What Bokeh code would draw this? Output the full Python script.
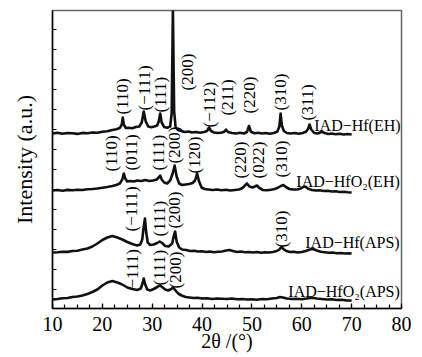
import math
from bokeh.plotting import figure
from bokeh.models import ColumnDataSource, FixedTicker, SingleIntervalTicker
from bokeh.core.properties import value
from bokeh.embed import file_html
from bokeh.resources import INLINE

# ---------------- data ----------------
# 2theta (deg) and intensity above each pattern's own baseline (a.u.)
s1_x = [10, 11, 12, 13, 14, 15, 16, 17, 18, 19, 20, 21, 22, 22.8, 23.5, 23.9, 24.1, 24.3, 24.7, 25.3,
        26, 26.7, 27.4, 27.9, 28.3, 28.7, 29.2, 29.8, 30.4, 31.0, 31.3, 31.6, 31.9, 32.4, 33.0, 33.6,
        33.9, 34.15, 34.4, 34.7, 35.2, 35.8, 36.5, 37.3, 38.0, 38.8, 39.6, 40.4, 41.0, 41.4, 41.8, 42.4,
        43.2, 44.0, 44.5, 44.8, 45.2, 46.0, 46.8, 47.6, 48.4, 49.0, 49.4, 49.8, 50.5, 51.3, 52.0, 52.8,
        53.6, 54.4, 55.1, 55.5, 55.75, 56.0, 56.4, 57.0, 57.8, 58.6, 59.4, 60.2, 60.9, 61.3, 61.55, 61.9,
        62.5, 63.2, 64.0, 64.6, 65.3, 66.0, 66.8, 67.6, 68.4, 69.2, 70.0]
s1_y = [0, 0.8, -0.3, 0.5, 0.2, -0.4, 0.6, 0.3, 1.0, 0.8, 1.8, 2.3, 3.5, 4.2, 5.5, 9, 16, 9, 5.5, 5.8,
        5.2, 6.5, 7, 11, 22, 12, 7, 6.3, 7, 8, 12, 20, 11, 6.5, 5.8, 7,
        20, 124, 22, 6, 3.5, 2.5, 1.5, 2, 1, 1.5, 0.8, 1.5, 2.5, 6, 2.5, 1,
        0.5, 1, 2, 4, 1.5, 0.5, 0, 0.8, 0, 1.5, 7.5, 1.8, 0.2, 0.8, 0, 0.5,
        -0.3, 0.5, 2, 7, 20, 8, 2.5, 0.5, 0, 0.5, -0.3, 0.5, 2, 5, 9, 4,
        0.5, 0, 1.8, 0.5, -0.5, 0, -0.8, -0.3, -1, -0.5, -1]

s2_x = [10, 11, 12, 13, 14, 15, 16, 17, 18, 19, 20, 21, 22, 22.8, 23.5, 24.0, 24.3, 24.6, 25.0, 25.6,
        26.3, 27.0, 27.8, 28.6, 29.4, 30.2, 30.9, 31.3, 31.6, 31.9, 32.4, 33.0, 33.6, 34.1, 34.5, 34.9,
        35.4, 36.0, 36.7, 37.4, 38.1, 38.6, 39.0, 39.4, 39.9, 40.5, 41.3, 42.1, 43.0, 43.9, 44.8, 45.7,
        46.6, 47.4, 48.1, 48.6, 49.0, 49.5, 50.1, 50.6, 51.0, 51.5, 52.2, 53.0, 53.8, 54.6, 55.3, 55.8,
        56.3, 56.8, 57.5, 58.3, 59.1, 59.8, 60.3, 60.7, 61.2, 62.0, 62.8, 63.6, 64.4, 65.2, 66.0, 66.8,
        67.6, 68.4, 69.2, 70.0]
s2_y = [0, 0.5, -0.2, 0.6, 0.3, 0.8, 0.5, 1.2, 1.5, 2.0, 2.8, 3.5, 4.5, 5.5, 7, 11, 17, 12, 9, 9.5,
        9, 10, 9.5, 10.5, 9.5, 10, 11, 13, 15, 11, 8, 7, 10, 17, 25, 14,
        7, 5.5, 6, 6.5, 7.5, 10, 17, 9, 3, 1.5, 1, 0.5, 1, 0.3, 0.8, 0,
        0.5, 1, 2.5, 5, 7, 4, 3, 4, 5, 2.5, 0.5, 0.2, 0.8, 1.5, 3, 4.5,
        5.5, 3.5, 1.5, 1, 1, 2, 3.5, 4, 2, 0.5, 0, 0.3, -0.5, -0.3, -1, -0.8,
        -1.5, -1.2, -1.8, -2]

s3_x = [10, 11, 12, 13, 14, 15, 16, 17, 18, 19, 20, 21, 22, 23, 24, 25, 26, 27, 27.6, 28.0,
        28.3, 28.55, 28.8, 29.1, 29.6, 30.3, 31.0, 31.5, 32.0, 32.6, 33.3, 34.0, 34.35, 34.6, 34.9, 35.4,
        36.0, 36.8, 37.6, 38.4, 39.2, 40.0, 40.8, 41.6, 42.4, 43.2, 44.0, 44.8, 45.5, 46.2, 47.0, 47.8,
        48.6, 49.4, 50.2, 51.0, 51.8, 52.6, 53.4, 54.2, 55.0, 55.5, 55.9, 56.3, 56.9, 57.6, 58.4, 59.2,
        60.0, 60.8, 61.6, 62.3, 63.0, 63.8, 64.6, 65.4, 66.2, 67.0, 67.8, 68.6, 69.4, 70.0]
s3_y = [0, 0.3, 0.8, 0.6, 1.5, 1.8, 3, 4, 6, 9, 12.5, 15, 16.5, 15, 13, 10.5, 8.5, 7, 8, 13,
        26, 34, 20, 10, 7.5, 8, 9.5, 11, 9.5, 6.5, 6, 9, 17, 21, 11, 5,
        3, 2.5, 1.5, 1.8, 1, 1.2, 0.5, 1, 0.3, 0.8, 1, 2, 2.5, 1.5, 0.5, 1,
        0.3, 0.5, 0, 0.5, -0.3, 0.3, 0, 0.5, 1.5, 3, 5.5, 3.5, 1.5, 0.5, 0.8, 0,
        0.5, 1.5, 3, 3.5, 2, 0.8, 0.3, -0.3, 0, -0.8, -0.5, -1, -0.8, -1]

s4_x = [10, 11, 12, 13, 14, 15, 16, 17, 18, 19, 20, 21, 22, 23, 24, 25, 26, 27, 27.7, 28.05,
        28.3, 28.6, 29.0, 29.6, 30.3, 31.0, 31.5, 32.0, 32.6, 33.2, 33.8, 34.2, 34.6, 35.2, 35.9, 36.7,
        37.5, 38.3, 39.1, 40.0, 41, 42, 43, 44, 45, 46, 47, 48, 49, 50, 51, 52,
        53, 54, 55, 55.6, 56.2, 57, 58, 59, 60, 61, 62, 63, 64, 65, 66, 67, 68, 69, 70]
s4_y = [0, 0.5, 1.2, 1.5, 2.5, 3, 4, 5.5, 7.5, 10, 14, 17, 18.5, 17, 15, 12, 10.5, 9.5, 11, 16,
        21, 15, 10, 9, 10.5, 12.5, 14, 12.5, 10, 9, 10.5, 12, 9.5, 6, 4, 2.5,
        2, 1.5, 1.8, 1, 1.2, 0.5, 1, 0.8, 0.5, 1, 0.3, 0.5, 0, 0.3, -0.3, 0.5,
        0.3, 1, 1.5, 2.5, 2, 1, 0.5, 0.8, 0.3, 1, 1.8, 1, 0.5, 0, 0.3, -0.5, -0.3, -1, -1]

series_names = ["IAD\u2212Hf(EH)", "IAD\u2212HfO\u2082(EH)", "IAD\u2212Hf(APS)", "IAD\u2212HfO\u2082(APS)"]
series_offsets = [175, 118, 56, 9]

# peak (hkl) labels: text, 2theta, height where label starts
hkl_text = ["(110)", "(\u2212111)", "(111)", "(200)", "(\u2212112)", "(211)", "(220)", "(310)", "(311)",
            "(110)", "(011)", "(111)", "(200)", "(120)", "(220)", "(022)", "(310)",
            "(\u2212111)", "(111)", "(200)", "(310)",
            "\u2212111)", "(111)", "(200)"]
hkl_x = [24.1, 28.4, 31.7, 37.0, 41.4, 45.0, 49.6, 55.7, 61.1,
         21.9, 25.9, 31.3, 34.5, 38.4, 47.8, 51.4, 55.9,
         25.9, 31.5, 34.4, 55.9,
         26.1, 31.5, 34.7]
hkl_y = [194, 198, 196, 218, 181, 193, 195, 198, 188,
         137, 138, 138, 145, 135, 130, 130, 131,
         77, 72, 80, 61,
         20, 23, 20]

name_x = [62.5, 58.9, 60.7, 57.3]
name_y = [183, 127, 66, 17]

y_ticks = [19, 39, 59, 79, 99, 119, 139, 159, 179, 199, 219, 239, 259, 279]

FONT = "'Liberation Serif', 'Times New Roman', serif"

# ---------------- figure ----------------
p = figure(width=422, height=357, x_range=(10, 80), y_range=(0, 298),
           output_backend="svg", toolbar_location=None,
           min_border_left=52, min_border_right=21, min_border_top=10, min_border_bottom=49)
p.background_fill_color = "white"
p.border_fill_color = "white"
p.outline_line_color = "#666666"
p.outline_line_width = 1.5
p.xgrid.visible = False
p.ygrid.visible = False

# x axis
p.xaxis.ticker = SingleIntervalTicker(interval=10, num_minor_ticks=4)
p.xaxis.major_tick_in = 5
p.xaxis.major_tick_out = 0
p.xaxis.minor_tick_in = 4
p.xaxis.minor_tick_out = 0
p.xaxis.axis_line_width = 1.5
p.xaxis.major_tick_line_width = 1.2
p.xaxis.minor_tick_line_width = 1.2
p.xaxis.major_label_text_font = FONT
p.xaxis.major_label_text_font_size = "20px"
p.xaxis.major_label_text_color = "black"
p.xaxis.major_label_standoff = 8
p.xaxis.axis_label = "2\u03b8 /(\u00b0)"
p.xaxis.axis_label_text_font = FONT
p.xaxis.axis_label_text_font_size = "20px"
p.xaxis.axis_label_text_font_style = "normal"
p.xaxis.axis_label_text_color = "black"
p.xaxis.axis_label_standoff = -4

# y axis
p.yaxis.ticker = FixedTicker(ticks=y_ticks)
p.yaxis.major_tick_in = 4
p.yaxis.major_tick_out = 0
p.yaxis.minor_tick_in = 0
p.yaxis.minor_tick_out = 0
p.yaxis.axis_line_width = 1.5
p.yaxis.major_tick_line_width = 1.2
p.yaxis.major_label_overrides = {t: "" for t in y_ticks}
p.yaxis.major_label_standoff = 0
p.yaxis.axis_label = "Intensity (a.u.)"
p.yaxis.axis_label_text_font = FONT
p.yaxis.axis_label_text_font_size = "22px"
p.yaxis.axis_label_text_font_style = "normal"
p.yaxis.axis_label_text_color = "black"
p.yaxis.axis_label_standoff = 16

# curves
for xs, ys, off in zip([s1_x, s2_x, s3_x, s4_x], [s1_y, s2_y, s3_y, s4_y], series_offsets):
    p.line(xs, [v + off for v in ys], line_color="#111111", line_width=2.6, line_join="round")

# hkl labels (rotated)
hkl_src = ColumnDataSource(dict(x=hkl_x, y=hkl_y, t=hkl_text))
p.text(x="x", y="y", text="t", source=hkl_src, angle=math.pi / 2,
       text_align="left", text_baseline="middle",
       text_font=value(FONT), text_font_size="17px", text_color="black")

# series names
name_src = ColumnDataSource(dict(x=name_x, y=name_y, t=series_names))
p.text(x="x", y="y", text="t", source=name_src,
       text_align="left", text_baseline="middle",
       text_font=value(FONT), text_font_size="16px", text_color="black")

open("out.html", "w").write(file_html(p, INLINE))
